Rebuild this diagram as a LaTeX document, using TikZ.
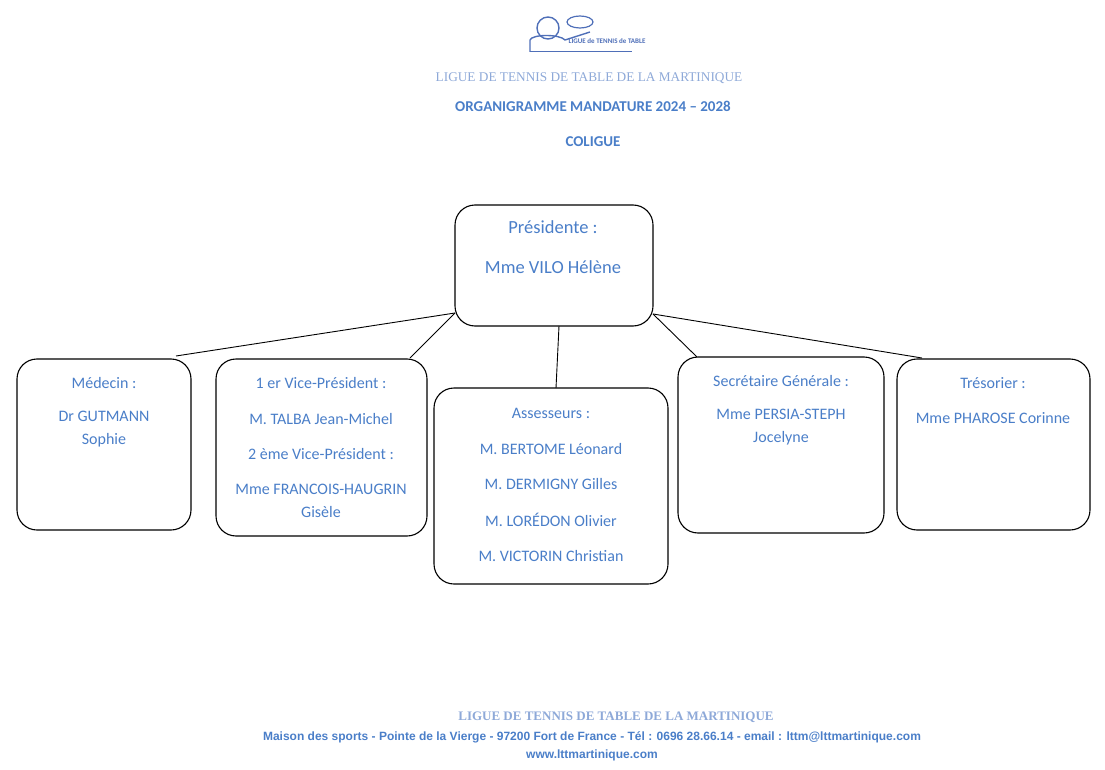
\documentclass[tikz,border=0pt]{standalone}
\usepackage{fontspec}
\setmainfont{Carlito}
\newfontfamily\headfont{Liberation Serif}
\newfontfamily\footfont{Liberation Sans}
\usetikzlibrary{positioning}
\definecolor{txtblue}{HTML}{4A7EC8}
\definecolor{lightblue}{HTML}{8EA9D8}
\definecolor{logoblue}{HTML}{4F6FB8}

\begin{document}
\begin{tikzpicture}[x=1pt,y=-1pt,
  box/.style={draw,rounded corners=20pt,line width=1.1pt},
  lbl/.style={text=txtblue,font=\fontsize{16}{19}\selectfont,align=center},
  two/.style={lbl,font=\fontsize{16}{23}\selectfont},
  link/.style={line width=0.9pt}]
\useasboundingbox (0,0) rectangle (1105,770);

% logo
\draw [logoblue,line width=1.4pt] (548,28) circle (11);
\draw [logoblue,line width=1.4pt] (530,52) -- (530,40) .. controls (532,34) and (560,34) .. (565,40) -- (590,32);
\draw [logoblue,line width=1.2pt] (580,22) ellipse (13 and 6);
\draw [logoblue,line width=1pt] (530,52) -- (632,52);
\node (logo) [text=logoblue,font=\bfseries\fontsize{7}{8}\selectfont] at (607,41) {LIGUE de TENNIS de TABLE};

% header
\node (t1) [text=lightblue,font=\headfont\fontsize{13.3}{16}\selectfont] at (589,78) {LIGUE DE TENNIS DE TABLE DE LA MARTINIQUE};
\node (t2) [text=txtblue,font=\bfseries\fontsize{15}{17}\selectfont] at (593,106) {ORGANIGRAMME MANDATURE 2024 -- 2028};
\node (t3) [text=txtblue,font=\bfseries\fontsize{15}{17}\selectfont] at (593,142) {COLIGUE};

% boxes
\draw [box] (455,205) rectangle (653,326);
\draw [box] (17,359) rectangle (191,530);
\draw [box] (216,359) rectangle (427,536);
\draw [box] (434,388) rectangle (668,584);
\draw [box] (678,357) rectangle (884,533);
\draw [box] (897,359) rectangle (1090,530);

% texts
\node (pres) [lbl,font=\fontsize{18.5}{21}\selectfont] at (553,227) {Présidente :};
\node (presname) [lbl,font=\fontsize{18.5}{21}\selectfont] at (553,267) {Mme VILO Hélène};
\node (med) [lbl] at (104,383) {Médecin :};
\node (medname) [two] at (104,429) {Dr GUTMANN\\Sophie};
\node (vp1) [lbl] at (321,383) {1 er Vice-Président :};
\node (vp1name) [lbl] at (321,419) {M. TALBA Jean-Michel};
\node (vp2) [lbl] at (321,454) {2 ème Vice-Président :};
\node (vp2name) [two] at (321,501) {Mme FRANCOIS-HAUGRIN\\Gisèle};
\node (ass) [lbl] at (551,413) {Assesseurs :};
\node (ass1) [lbl] at (551,449) {M. BERTOME Léonard};
\node (ass2) [lbl] at (551,484) {M. DERMIGNY Gilles};
\node (ass3) [lbl] at (551,520) {M. LORÉDON Olivier};
\node (ass4) [lbl] at (551,556) {M. VICTORIN Christian};
\node (sec) [lbl] at (781,381) {Secrétaire Générale :};
\node (secname) [two] at (781,427) {Mme PERSIA-STEPH\\Jocelyne};
\node (tre) [lbl] at (993,383) {Trésorier :};
\node (trename) [lbl] at (993,418) {Mme PHAROSE Corinne};

% connectors
\coordinate (pl) at (455,313);
\coordinate (pr) at (653,314);
\coordinate (pb) at (559,326);
\coordinate (medtop) at (176,356);
\coordinate (vptop) at (410,358);
\coordinate (asstop) at (556,388);
\coordinate (sectop) at (697,357);
\coordinate (tretop) at (922,358);
\draw [link] (pl) -- (medtop);
\draw [link] (pl) -- (vptop);
\draw [link] (pb) -- (asstop);
\draw [link] (pr) -- (sectop);
\draw [link] (pr) -- (tretop);

% footer
\node (f1) [text=lightblue,font=\headfont\bfseries\fontsize{13}{15}\selectfont] at (616,717) {LIGUE DE TENNIS DE TABLE DE LA MARTINIQUE};
\node (f2) [text=txtblue,font=\footfont\bfseries\fontsize{12}{14}\selectfont] at (592,737) {Maison des sports - Pointe de la Vierge - 97200 Fort de France - Tél : 0696 28.66.14 - email : lttm@lttmartinique.com};
\node (f3) [text=txtblue,font=\footfont\bfseries\fontsize{12}{14}\selectfont] at (592,755) {www.lttmartinique.com};
\end{tikzpicture}
\end{document}
